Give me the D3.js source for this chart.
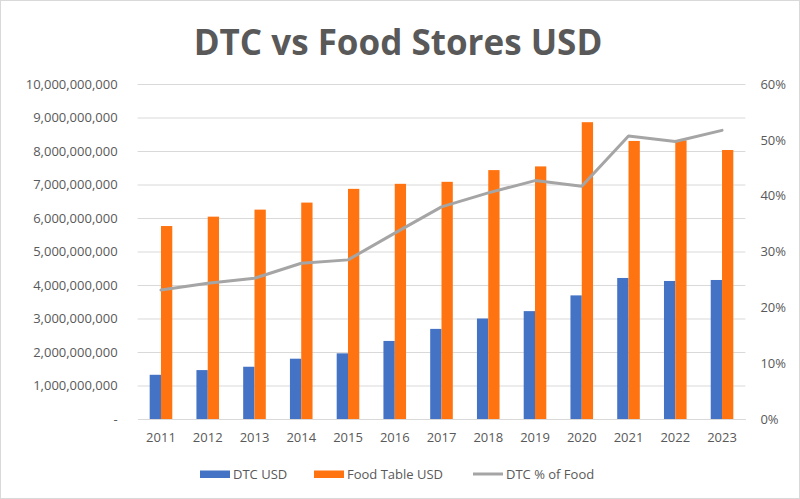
<!DOCTYPE html>
<html>
<head>
<meta charset="utf-8">
<script src="https://cdn.jsdelivr.net/npm/d3@7"></script>
<style>
  html, body { margin: 0; padding: 0; background: #fff; }
  svg { display: block; }
</style>
</head>
<body>
<svg id="chart" width="800" height="499"></svg>
<script>
const years = ["2011","2012","2013","2014","2015","2016","2017","2018","2019","2020","2021","2022","2023"];
const dtcUsd = [1.32e9, 1.46e9, 1.56e9, 1.80e9, 1.96e9, 2.33e9, 2.69e9, 3.00e9, 3.22e9, 3.69e9, 4.21e9, 4.12e9, 4.15e9];
const foodUsd = [5.76e9, 6.04e9, 6.25e9, 6.46e9, 6.87e9, 7.02e9, 7.08e9, 7.43e9, 7.54e9, 8.86e9, 8.30e9, 8.32e9, 8.03e9];
const dtcPct = [0.231, 0.243, 0.252, 0.279, 0.285, 0.333, 0.380, 0.405, 0.427, 0.417, 0.507, 0.497, 0.517];
const leftTicks = [0, 1e9, 2e9, 3e9, 4e9, 5e9, 6e9, 7e9, 8e9, 9e9, 10e9];
const rightTicks = [0, 0.1, 0.2, 0.3, 0.4, 0.5, 0.6];
const seriesNames = ["DTC USD", "Food Table USD", "DTC % of Food"];

const svg = d3.select("#chart");
const W = 800, H = 499;
const m = { left: 137.6, right: 800 - 745.4, top: 84, bottom: 499 - 419 };
const textColor = "#595959";
const font = "Open Sans, sans-serif";

// outer border
svg.append("rect").attr("x", 0.5).attr("y", 0.5).attr("width", W - 1).attr("height", H - 1)
  .attr("fill", "#fff").attr("stroke", "#d9d9d9");

const x = d3.scaleBand().domain(years).range([m.left, W - m.right]);
const yL = d3.scaleLinear().domain([0, 10e9]).range([H - m.bottom, m.top]);
const yR = d3.scaleLinear().domain([0, 0.6]).range([H - m.bottom, m.top]);

// gridlines
svg.append("g").attr("transform", `translate(${m.left},0)`)
  .call(d3.axisLeft(yL).tickValues(leftTicks.slice(1)).tickSize(-(W - m.left - m.right)).tickFormat(""))
  .call(g => g.select(".domain").remove())
  .call(g => g.selectAll("line").attr("stroke", "#d9d9d9").attr("stroke-width", 1));

// left axis labels
const fmt = d3.format(",");
svg.append("g").attr("transform", `translate(${m.left},0)`)
  .call(d3.axisLeft(yL).tickValues(leftTicks).tickSize(0).tickPadding(20)
    .tickFormat(d => d === 0 ? "-" : fmt(d)))
  .call(g => g.select(".domain").remove())
  .call(g => g.selectAll("text").attr("fill", textColor).attr("font-family", font).attr("font-size", "13px"));

// right axis labels
svg.append("g").attr("transform", `translate(${W - m.right},0)`)
  .call(d3.axisRight(yR).tickValues(rightTicks).tickSize(0).tickPadding(15).tickFormat(d3.format(".0%")))
  .call(g => g.select(".domain").remove())
  .call(g => g.selectAll("text").attr("fill", textColor).attr("font-family", font).attr("font-size", "13px"));

// bars
const barW = 11.3;
const g = svg.append("g");
g.selectAll("rect.dtc").data(years).join("rect").attr("class", "dtc")
  .attr("x", d => x(d) + x.bandwidth() / 2 - barW)
  .attr("width", barW)
  .attr("y", (d, i) => yL(dtcUsd[i]))
  .attr("height", (d, i) => yL(0) - yL(dtcUsd[i]))
  .attr("fill", "#4472C4");
g.selectAll("rect.food").data(years).join("rect").attr("class", "food")
  .attr("x", d => x(d) + x.bandwidth() / 2)
  .attr("width", barW)
  .attr("y", (d, i) => yL(foodUsd[i]))
  .attr("height", (d, i) => yL(0) - yL(foodUsd[i]))
  .attr("fill", "#FF7410");

// baseline axis
svg.append("g").attr("transform", `translate(0,${H - m.bottom})`)
  .call(d3.axisBottom(x).tickSize(0).tickPadding(14))
  .call(g => g.select(".domain").attr("stroke", "#d9d9d9"))
  .call(g => g.selectAll("text").attr("fill", textColor).attr("font-family", font).attr("font-size", "13px"));

// line
const line = d3.line().x((d, i) => x(years[i]) + x.bandwidth() / 2).y(d => yR(d));
svg.append("path").datum(dtcPct).attr("d", line)
  .attr("fill", "none").attr("stroke", "#A5A5A5").attr("stroke-width", 3)
  .attr("stroke-linejoin", "round").attr("stroke-linecap", "round");

// title
svg.append("text").attr("x", 398).attr("y", 55).attr("text-anchor", "middle")
  .attr("font-family", font).attr("font-weight", "bold").attr("font-size", "35px")
  .attr("fill", textColor).text("DTC vs Food Stores USD");

// legend
const legend = svg.append("g");
const legendItems = [
  { name: seriesNames[0], x: 200, type: "rect", color: "#4472C4" },
  { name: seriesNames[1], x: 314, type: "rect", color: "#FF7410" },
  { name: seriesNames[2], x: 473, type: "line", color: "#A5A5A5" }
];
legendItems.forEach(it => {
  if (it.type === "rect") {
    legend.append("rect").attr("x", it.x).attr("y", 470.5).attr("width", 30).attr("height", 7.5).attr("fill", it.color);
  } else {
    legend.append("line").attr("x1", it.x).attr("x2", it.x + 30).attr("y1", 474).attr("y2", 474)
      .attr("stroke", it.color).attr("stroke-width", 3);
  }
  legend.append("text").attr("x", it.x + 33).attr("y", 478.5)
    .attr("font-family", font).attr("font-size", "13px").attr("fill", textColor).text(it.name);
});
</script>
</body>
</html>
